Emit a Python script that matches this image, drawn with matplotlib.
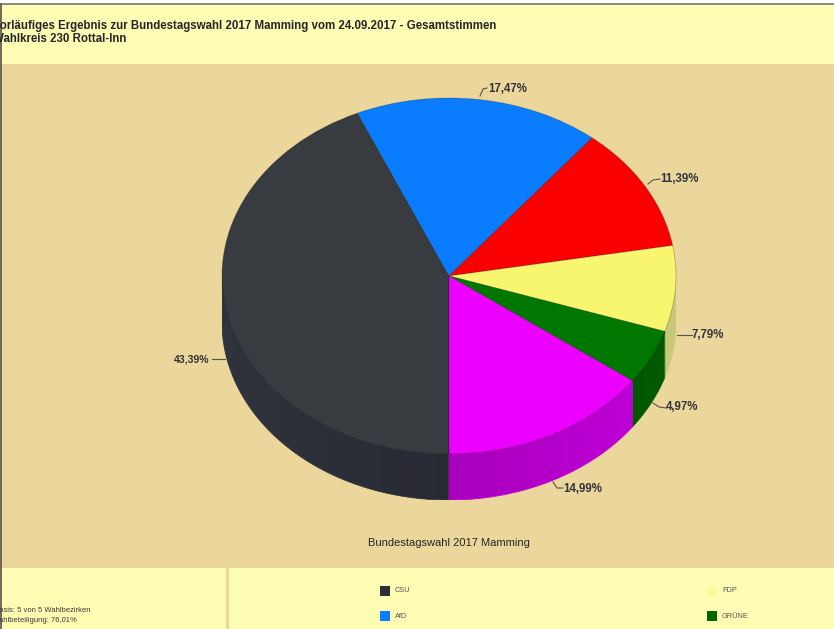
import numpy as np
import matplotlib
matplotlib.use('Agg')
import matplotlib.pyplot as plt
from matplotlib.colors import to_rgb
from matplotlib.patches import Rectangle, Polygon

plt.rcParams['font.family'] = ['Liberation Sans', 'DejaVu Sans']

parteien = ['CSU', 'AfD', 'SPD', 'FDP', 'GRÜNE', 'Sonstige']
anteile = [43.39, 17.47, 11.39, 7.79, 4.97, 14.99]
farben = ['#383b40', '#0a7cff', '#fa0000', '#f7f66e', '#007800', '#ec00ff']
seiten = ['#30323c', '#0a5cc0', '#b00000', '#c8c878', '#005a00', '#c400dc']
legende = ['CSU', 'AfD', 'FDP', 'GRÜNE']
legende_farben = ['#2d2e36', '#0a7cff', '#fbfb9c', '#006400']

titel = ['Vorläufiges Ergebnis zur Bundestagswahl 2017 Mamming vom 24.09.2017 - Gesamtstimmen',
         'Wahlkreis 230 Rottal-Inn']
info = ['Basis: 5 von 5 Wahlbezirken', 'Wahlbeteiligung: 76,01%']

GELB = '#fffcb4'
TAN = '#ebd79b'
W, H = 834, 629

fig = plt.figure(figsize=(W / 100, H / 100), dpi=100, facecolor='white')

# Hintergrund in Pixelkoordinaten
bg = fig.add_axes([0, 0, 1, 1])
bg.set_xlim(0, W)
bg.set_ylim(H, 0)
bg.axis('off')
bg.add_patch(Rectangle((0, 4), W, 60, color=GELB, lw=0))
bg.add_patch(Rectangle((0, 64), W, 504, color=TAN, lw=0))
bg.add_patch(Rectangle((0, 568), W, 61, color=GELB, lw=0))
bg.add_patch(Rectangle((226, 568), 3, 61, color=TAN, lw=0))
bg.plot([0, W], [3.5, 3.5], color='#77766f', lw=1.2)
bg.plot([0.5, 0.5], [4, H], color='#55544f', lw=1.2)

bg.text(-7, 26, titel[0], fontsize=8.3, fontweight='bold', color='#25252a', va='center')
bg.text(-7, 39, titel[1], fontsize=8.3, fontweight='bold', color='#25252a', va='center')
bg.text(-6, 611, info[0], fontsize=5.5, color='#3a3a3a', va='center')
bg.text(-8, 620, info[1], fontsize=5.5, color='#3a3a3a', va='center')
bg.text(449, 543, 'Bundestagswahl 2017 Mamming', fontsize=8, color='#25252a', ha='center', va='center')

# Legende
leg_x = [385, 385, 712, 712]
leg_y = [591, 616, 591, 616]
for name, farbe, lx, ly in zip(legende, legende_farben, leg_x, leg_y):
    bg.add_patch(Rectangle((lx - 5, ly - 5), 10, 10, color=farbe, lw=0))
    bg.text(lx + 10, ly, name, fontsize=5.3, color='#55555a', va='center')

# Tortenachse: elliptisch, unten um die Seitenwand verlaengert
cx, cy, rx, ry, tiefe = 449, 276, 227, 178, 46
d = tiefe / ry
ax = fig.add_axes([(cx - rx) / W, 1 - (cy + ry + tiefe) / H, 2 * rx / W, (2 * ry + tiefe) / H])
ax.patch.set_visible(False)

grenzen = 270 - np.cumsum([0] + anteile) * 3.6  # im Uhrzeigersinn ab unten

# Seitenwand nur in der unteren Haelfte, zur Mitte hin dunkler
spalten = np.linspace(-1, 1, 40)
hell = 0.85 + 0.15 * np.abs(spalten)
for i in range(len(anteile)):
    t = np.radians(np.linspace(grenzen[i + 1], grenzen[i], 200))
    t = t[np.sin(t) <= 0]
    if len(t) < 2:
        continue
    oben = np.column_stack([np.cos(t), np.sin(t)])
    unten = oben[::-1] - [0, d]
    wand = Polygon(np.vstack([oben, unten]), closed=True, facecolor='none',
                   edgecolor=seiten[i], lw=0.6, zorder=2)
    ax.add_patch(wand)
    band = np.outer(hell, to_rgb(seiten[i]))[np.newaxis, :, :]
    im = ax.imshow(band, extent=(-1, 1, -1 - d, 1), aspect='auto', interpolation='nearest', zorder=1)
    im.set_clip_path(wand)

ax.pie(anteile, colors=farben, startangle=270, counterclock=False, radius=1, center=(0, 0),
       wedgeprops={'linewidth': 0.6, 'edgecolor': (0, 0, 0, 0.25), 'zorder': 3}, frame=False)
ax.set_aspect('auto')
ax.set_xlim(-1, 1)
ax.set_ylim(-1 - d, 1)
ax.axis('off')

# Prozentlabels mit Fuehrungslinien (Pixelpositionen)
labels = [('%.2f%%' % a).replace('.', ',') for a in anteile]
groessen = [7.6, 8.3, 8.3, 8.3, 8.3, 8.3]
text_pos = [(209, 360, 'right'), (488, 89, 'left'), (660, 179, 'left'),
            (692, 335, 'left'), (666, 407, 'left'), (563, 489, 'left')]
linien = [[(212, 359), (225, 359)],
          [(480, 96), (483, 89), (487, 88)],
          [(648, 184), (653, 180), (660, 179)],
          [(677, 335), (692, 335)],
          [(653, 403), (659, 407), (666, 408)],
          [(553, 482), (557, 488), (563, 488)]]
for s, g, (tx, ty, ha), linie in zip(labels, groessen, text_pos, linien):
    bg.plot([p[0] for p in linie], [p[1] for p in linie], color='#55544f', lw=0.8, zorder=5)
    bg.text(tx, ty, s, fontsize=g, fontweight='bold', color='#33333a', ha=ha, va='center', zorder=5)

fig.savefig('out.png', dpi=100)
